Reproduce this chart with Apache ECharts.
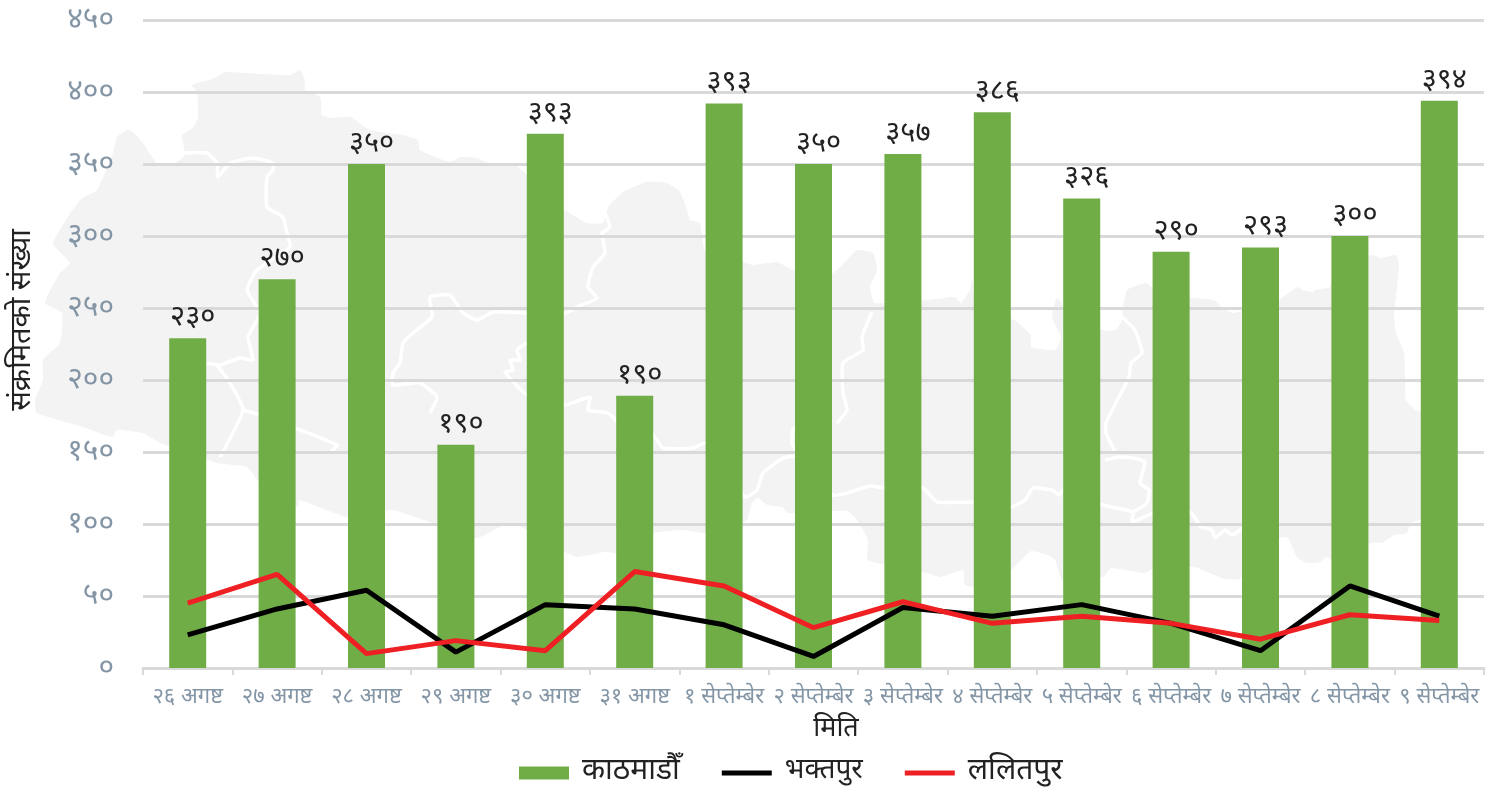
<!DOCTYPE html>
<html><head><meta charset="utf-8">
<style>html,body{margin:0;padding:0;background:#fff}#c{width:1494px;height:787px}</style>
<script src="https://cdn.jsdelivr.net/npm/echarts@6/dist/echarts.min.js"></script>
</head><body><div id="c"></div>
<script>
const categories=['२६ अगष्ट','२७ अगष्ट','२८ अगष्ट','२९ अगष्ट','३० अगष्ट','३१ अगष्ट','१ सेप्तेम्बेर','२ सेप्तेम्बेर','३ सेप्तेम्बेर','४ सेप्तेम्बेर','५ सेप्तेम्बेर','६ सेप्तेम्बेर','७ सेप्तेम्बेर','८ सेप्तेम्बेर','९ सेप्तेम्बेर'];
const kathmandu=[229,270,350,155,371,189,392,350,357,386,326,289,292,300,394];
const kathmanduLabels=['२३०','२७०','३५०','१९०','३९३','१९०','३९३','३५०','३५७','३८६','३२६','२९०','२९३','३००','३९४'];
const bhaktapur=[23,41,54,11,44,41,30,8,42,36,44,31,12,57,36];
const lalitpur=[45,65,10,19,12,67,57,28,46,31,36,31,20,37,33];
const yTickLabels=['०','५०','१००','१५०','२००','२५०','३००','३५०','४००','४५०'];

const FONT='"Noto Sans Devanagari","Noto Sans","Lohit Devanagari",sans-serif';
const LINE_ICON='path://M0 0L52 0L52 .01Z M0 4H52V9H0Z M0 13L52 13L52 13.01Z';
// decorative Nepal backdrop, traced as screen outline
const mapOutline=[[127,130],[133,132],[143,143],[157,163],[175,163],[185,155],[182,135],[193,128],[198,117],[197,92],[192,85],[215,78],[225,72],[260,74],[290,75],[300,70],[305,80],[305,90],[320,97],[322,115],[330,118],[350,117],[370,130],[403,135],[418,140],[420,150],[450,162],[460,157],[477,158],[493,165],[513,163],[527,175],[565,210],[587,223],[603,223],[608,207],[623,192],[647,182],[667,183],[680,192],[687,210],[690,220],[700,223],[705,250],[743,262],[753,265],[777,262],[793,270],[833,273],[847,260],[857,250],[873,253],[877,270],[870,287],[875,303],[928,300],[955,297],[961,303],[970,290],[972,278],[977,310],[1014,320],[1031,335],[1031,347],[1055,350],[1061,337],[1052,317],[1057,298],[1065,307],[1103,330],[1116,330],[1122,320],[1123,308],[1127,290],[1146,283],[1156,290],[1192,298],[1214,300],[1222,308],[1233,313],[1245,310],[1281,298],[1298,287],[1303,290],[1313,292],[1315,290],[1330,287],[1334,267],[1371,255],[1381,258],[1396,255],[1399,267],[1394,317],[1396,333],[1404,353],[1406,400],[1415,410],[1424,412],[1424,517],[1411,523],[1407,533],[1394,535],[1382,543],[1371,543],[1336,563],[1327,557],[1320,562],[1307,563],[1297,557],[1288,538],[1281,537],[1239,579],[1222,578],[1198,568],[1191,567],[1156,567],[1145,573],[1111,568],[1103,577],[1064,583],[1055,560],[1048,555],[1031,551],[1011,570],[978,587],[965,585],[963,570],[940,577],[927,573],[868,560],[868,540],[857,520],[847,511],[797,513],[788,513],[782,507],[767,505],[758,498],[752,503],[747,520],[707,533],[683,530],[653,533],[618,553],[605,552],[577,557],[565,552],[523,528],[513,523],[500,527],[477,538],[393,510],[350,518],[300,500],[297,507],[260,483],[247,467],[217,463],[160,443],[143,433],[117,430],[112,437],[83,427],[37,413],[35,400],[43,380],[43,360],[60,343],[62,313],[45,303],[60,273],[70,263],[53,243],[80,200],[97,190],[113,153],[117,137]];
const mapBorders=[
[[185,153],[207,153],[217,163],[218,177],[230,163],[253,158],[273,163],[273,170],[267,177],[267,207],[283,217],[287,233],[290,247],[257,270],[247,290],[260,313],[248,337],[253,360],[240,358],[220,365],[207,363]],
[[217,365],[230,383],[243,410],[220,457]],
[[243,410],[260,415],[337,445],[330,453]],
[[605,213],[610,227],[602,233],[605,253],[593,267],[588,287],[597,298],[577,307],[565,313],[527,313],[493,312],[477,320],[463,313],[450,295],[430,297],[432,317],[413,333],[403,343],[400,363],[393,373],[393,385],[420,383],[437,397],[430,413]],
[[527,343],[517,350],[520,360],[510,360],[513,370],[505,372],[527,395],[565,405],[590,397],[588,410],[608,413],[618,422],[653,435],[663,448],[693,448],[707,443],[745,497],[757,490],[763,473],[783,458],[797,455],[792,443],[793,430],[797,427]],
[[797,455],[833,495],[847,493],[870,486],[885,488],[923,488],[937,502],[977,502],[1011,507],[1025,500],[1033,488],[1052,490],[1059,495],[1064,490],[1103,505],[1133,512],[1132,522],[1156,512],[1191,513],[1201,527],[1212,530],[1215,538],[1225,530],[1232,535],[1244,527]],
[[1133,512],[1147,503],[1149,490],[1140,483],[1145,462],[1133,458],[1120,457],[1105,460]],
[[1115,452],[1106,433],[1106,423],[1120,395],[1129,377],[1131,363],[1142,353],[1135,330],[1122,317]],
[[872,312],[862,337],[863,350],[843,363],[843,393],[847,410],[837,423]]
];

const chart=echarts.init(document.getElementById('c'),null,{renderer:'canvas'});
chart.setOption({
 animation:false,backgroundColor:'#fff',textStyle:{fontFamily:FONT},
 graphic:[{type:'polygon',z:-10,silent:true,shape:{points:mapOutline,smooth:0.15},style:{fill:'#f3f3f3'}}].concat(
  mapBorders.map(p=>({type:'polyline',z:-9,silent:true,shape:{points:p,smooth:0.15},style:{stroke:'#fff',lineWidth:3.5,fill:null}}))),
 grid:{left:143,right:10,top:20,bottom:119,containLabel:false,outerBoundsMode:'none'},
 legend:{top:753,left:514,itemWidth:50,itemHeight:13,itemGap:42,textStyle:{fontFamily:FONT,fontSize:30,color:'#222',padding:[0,0,0,8]},
  data:[{name:'काठमाडौँ',icon:'rect'},{name:'भक्तपुर',icon:LINE_ICON,textStyle:{fontSize:28}},{name:'ललितपुर',icon:LINE_ICON}]},
 xAxis:{type:'category',data:categories,boundaryGap:true,
  name:'मिति',nameLocation:'middle',nameGap:49,nameTextStyle:{fontSize:27,color:'#222',fontFamily:FONT,padding:[0,0,0,45]},
  axisLine:{lineStyle:{color:'#d9d9d9',width:3}},
  axisTick:{show:true,alignWithLabel:false,length:7,lineStyle:{color:'#d9d9d9',width:2}},
  axisLabel:{interval:0,margin:20,fontSize:22,color:'#8496a6',fontFamily:FONT}},
 yAxis:{type:'value',min:0,max:450,interval:50,
  name:'संक्रमितको संख्या',nameLocation:'middle',nameGap:104,nameTextStyle:{fontSize:29,color:'#222',fontFamily:FONT,padding:[0,0,0,48]},
  axisLine:{show:false},axisTick:{show:false},
  splitLine:{lineStyle:{color:'#d9d9d9',width:3}},
  axisLabel:{margin:29,color:'#8496a6',fontFamily:FONT,
   rich:{t:{fontSize:30,color:'#8496a6',fontFamily:FONT,lineHeight:40,padding:[5,0,0,0]}},
   formatter:(v)=>'{t|'+yTickLabels[v/50]+'}'}},
 series:[
  {name:'काठमाडौँ',type:'bar',data:kathmandu,barWidth:37,itemStyle:{color:'#70ad47'},z:2,
   label:{show:true,position:'top',distance:4,offset:[5,0],fontSize:29,color:'#222',fontFamily:FONT,formatter:(p)=>kathmanduLabels[p.dataIndex]}},
  {name:'भक्तपुर',type:'line',data:bhaktapur,symbol:'none',z:3,lineStyle:{color:'#000',width:5},itemStyle:{color:'#000'}},
  {name:'ललितपुर',type:'line',data:lalitpur,symbol:'none',z:4,lineStyle:{color:'#ee2024',width:5},itemStyle:{color:'#ee2024'}}
 ]
});
</script></body></html>
